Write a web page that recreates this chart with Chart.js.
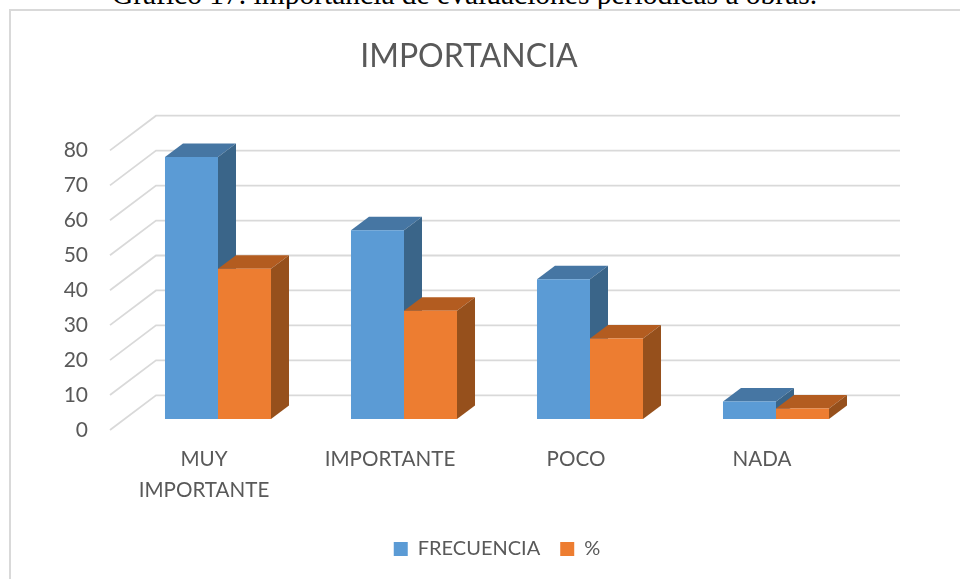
<!DOCTYPE html>
<html>
<head>
<meta charset="utf-8">
<title>Importancia</title>
<script src="https://cdn.jsdelivr.net/npm/chart.js@4"></script>
<style>
    html, body { margin: 0; padding: 0; background: #fff; overflow: hidden; }
    #caption {
        position: absolute; left: 0; top: -18px; width: 929px; text-align: center;
        font: 29.5px/24px "Liberation Serif", serif; color: #000; white-space: nowrap;
    }
    #frame {
        position: absolute; left: 9px; top: 9px; width: 960px; height: 600px;
        border: 2px solid #d9d9d9; box-sizing: border-box;
    }
    #chart { position: absolute; left: 0; top: 0; }
</style>
</head>
<body>
<div id="caption">Gráfico 17. importancia de evaluaciones periódicas a obras.</div>
<div id="frame"></div>
<canvas id="chart" width="960" height="579"></canvas>
<script>
const categories = [["MUY", "IMPORTANTE"], "IMPORTANTE", "POCO", "NADA"];
const frecuencia = [75, 54, 40, 5];
const porcentaje = [43, 31, 23, 3];
const tickStep = 10;
const tickMax = 80;

const textColor = "#595959";
const fontName = "Lato, sans-serif";

// profundidad de las barras y de las paredes
const barDepthX = 18;
const barDepthY = 13.5;
const wallFront = { x: -15, y: 11 };
const wallBack = { x: 31, y: -23.7 };

// colores de las caras laterales por serie
const faces = [
    { top: "#4676a3", side: "#3a6589" },
    { top: "#b35c20", side: "#96501c" },
];

function polygon(ctx, points, color) {
    ctx.fillStyle = color;
    ctx.beginPath();
    points.forEach((p, i) => (i ? ctx.lineTo(p[0], p[1]) : ctx.moveTo(p[0], p[1])));
    ctx.closePath();
    ctx.fill();
}

const walls3d = {
    id: "walls3d",
    afterLayout(chart) {
        // el titulo va un poco a la derecha del centro del layout
        chart.titleBlock.left += 2.5;
        chart.titleBlock.right += 2.5;
    },
    beforeDatasetsDraw(chart) {
        const { ctx, chartArea, scales } = chart;
        ctx.save();
        ctx.strokeStyle = "#d9d9d9";
        ctx.lineWidth = 1.8;
        scales.y.ticks.forEach((tick) => {
            const y = scales.y.getPixelForValue(tick.value);
            ctx.beginPath();
            ctx.moveTo(chartArea.left + wallFront.x, y + wallFront.y);
            ctx.lineTo(chartArea.left + wallBack.x, y + wallBack.y);
            ctx.lineTo(chartArea.right + wallBack.x, y + wallBack.y);
            ctx.stroke();
        });
        // caras laterales: primero azul, despues naranja encima
        faces.forEach((face, index) => {
            chart.getDatasetMeta(index).data.forEach((bar) => {
                const left = bar.x - bar.width / 2;
                const right = bar.x + bar.width / 2;
                polygon(ctx, [
                    [left, bar.y],
                    [left + barDepthX, bar.y - barDepthY],
                    [right + barDepthX, bar.y - barDepthY],
                    [right, bar.y],
                ], face.top);
                polygon(ctx, [
                    [right, bar.y],
                    [right + barDepthX, bar.y - barDepthY],
                    [right + barDepthX, bar.base - barDepthY],
                    [right, bar.base],
                ], face.side);
            });
        });
        ctx.restore();
    },
};

new Chart(document.getElementById("chart").getContext("2d"), {
    type: "bar",
    plugins: [walls3d],
    data: {
        labels: categories,
        datasets: [
            { label: "FRECUENCIA", data: frecuencia, backgroundColor: "#5b9bd5" },
            { label: "%", data: porcentaje, backgroundColor: "#ed7d31" },
        ],
    },
    options: {
        responsive: false,
        animation: false,
        events: [],
        categoryPercentage: 0.57,
        barPercentage: 1,
        layout: { padding: { left: 64, right: 91, top: 0, bottom: 10 } },
        plugins: {
            tooltip: { enabled: false },
            title: {
                display: true,
                text: "IMPORTANCIA",
                color: textColor,
                font: { family: fontName, size: 32, weight: "normal" },
                padding: { top: 37, bottom: 64 },
            },
            legend: {
                position: "bottom",
                fullSize: false,
                labels: {
                    color: textColor,
                    font: { family: fontName, size: 20 },
                    boxWidth: 14,
                    boxHeight: 14,
                    padding: 20,
                },
            },
        },
        scales: {
            x: {
                grid: { display: false },
                border: { display: false },
                afterFit(scale) { scale.height = 100; },
                ticks: {
                    color: textColor,
                    font: { family: fontName, size: 20.6, lineHeight: 1.5 },
                    padding: 17,
                    labelOffset: -14,
                    maxRotation: 0,
                },
            },
            y: {
                min: 0,
                max: tickMax,
                grid: { display: false },
                border: { display: false },
                afterFit(scale) { scale.width = 61; },
                ticks: {
                    stepSize: tickStep,
                    color: textColor,
                    font: { family: fontName, size: 21 },
                    padding: 29,
                    labelOffset: 11,
                },
            },
        },
    },
});
</script>
</body>
</html>
